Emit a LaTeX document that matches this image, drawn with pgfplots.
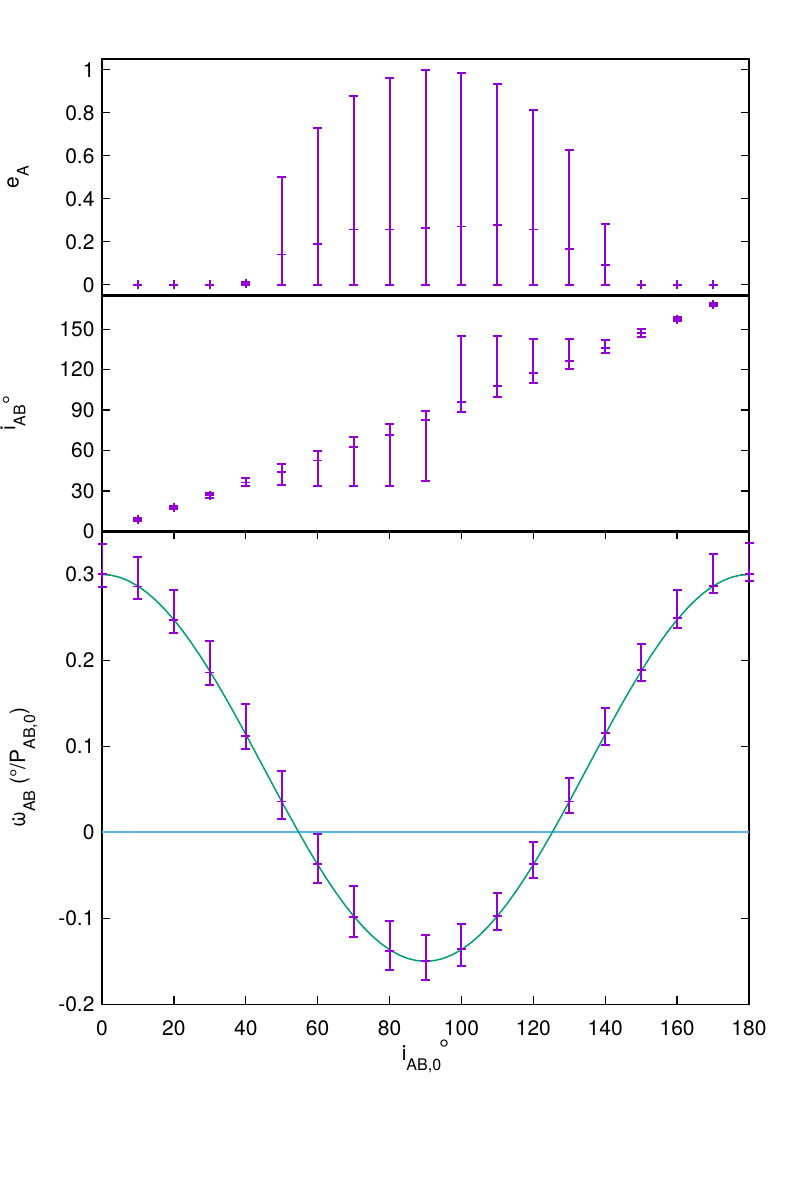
\documentclass[border=0pt]{standalone}
\usepackage{fontspec}
\setmainfont{TeX Gyre Heros}
\usepackage{pgfplots}
\pgfplotsset{compat=1.18}
\usepackage{pgfplotstable}
\definecolor{gpurple}{HTML}{9400D3}
\definecolor{ggreen}{HTML}{009E73}
\definecolor{gblue}{HTML}{56B4E9}

\newcommand{\lf}{\fontsize{21}{25}\selectfont}
\newcommand{\sbs}[1]{\raisebox{-10pt}{\fontsize{16}{18}\selectfont #1}}
\newcommand{\dg}[2]{\raisebox{#1}{\fontsize{#2}{#2}\selectfont °}}

% e_A: central values
\pgfplotstableread{
x y
10 0
20 0
30 0
40 0.008
50 0.141
60 0.191
70 0.257
80 0.257
90 0.264
100 0.271
110 0.277
120 0.257
130 0.166
140 0.092
150 0
160 0
170 0
}\ecc
% e_A: error-bar ends (lower, upper), nan separates bars
\pgfplotstableread{
x y
40 0
40 0.012
40 nan
50 0
50 0.502
50 nan
60 0
60 0.729
60 nan
70 0
70 0.877
70 nan
80 0
80 0.963
80 nan
90 0
90 1.0
90 nan
100 0
100 0.987
100 nan
110 0
110 0.933
110 nan
120 0
120 0.815
120 nan
130 0
130 0.627
130 nan
140 0
140 0.283
}\eccbar

\pgfplotstableread{
x y
10 8.9
20 17.9
30 26.8
40 36.4
50 44.3
60 52.6
70 62.7
80 71.3
90 82.9
100 96.1
110 107.9
120 117.5
130 126.7
140 136.3
150 147.0
160 157.4
170 168.2
}\incl
\pgfplotstableread{
x y
10 8.1
10 9.7
10 nan
20 16.7
20 19.1
20 nan
30 25.0
30 28.6
30 nan
40 33.4
40 39.8
40 nan
50 34.4
50 50.0
50 nan
60 33.4
60 59.5
60 nan
70 33.4
70 70.3
70 nan
80 33.4
80 79.9
80 nan
90 37.1
90 89.5
90 nan
100 88.5
100 144.8
100 nan
110 99.4
110 144.8
110 nan
120 109.9
120 142.9
120 nan
130 120.5
130 142.9
130 nan
140 132.3
140 141.9
140 nan
150 143.9
150 149.8
150 nan
160 155.9
160 158.9
160 nan
170 167.2
170 169.2
}\inclbar

\pgfplotstableread{
x y
0 0.301
10 0.286
20 0.247
30 0.186
40 0.112
50 0.036
60 -0.037
70 -0.098
80 -0.138
90 -0.150
100 -0.136
110 -0.097
120 -0.037
130 0.036
140 0.1155
150 0.189
160 0.249
170 0.2867
180 0.301
}\prec
\pgfplotstableread{
x y
0 0.286
0 0.335
0 nan
10 0.271
10 0.320
10 nan
20 0.232
20 0.282
20 nan
30 0.171
30 0.223
30 nan
40 0.097
40 0.1495
40 nan
50 0.016
50 0.071
50 nan
60 -0.059
60 -0.002
60 nan
70 -0.122
70 -0.062
70 nan
80 -0.160
80 -0.103
80 nan
90 -0.172
90 -0.119
90 nan
100 -0.155
100 -0.107
100 nan
110 -0.114
110 -0.071
110 nan
120 -0.053
120 -0.011
120 nan
130 0.022
130 0.063
130 nan
140 0.102
140 0.1445
140 nan
150 0.176
150 0.219
150 nan
160 0.2375
160 0.282
160 nan
170 0.279
170 0.3237
170 nan
180 0.2926
180 0.337
}\precbar

\pgfplotstableread{
x y
0 0.3
2.5 0.29914
5 0.29658
7.5 0.29233
10 0.28643
12.5 0.27892
15 0.26986
17.5 0.25931
20 0.24736
22.5 0.23410
25 0.21963
27.5 0.20406
30 0.18750
32.5 0.17009
35 0.15195
37.5 0.13323
40 0.11407
42.5 0.09461
45 0.07500
47.5 0.05539
50 0.03593
52.5 0.01677
55 -0.00195
57.5 -0.02009
60 -0.03750
62.5 -0.05406
65 -0.06963
67.5 -0.08410
70 -0.09736
72.5 -0.10931
75 -0.11986
77.5 -0.12892
80 -0.13643
82.5 -0.14233
85 -0.14658
87.5 -0.14914
90 -0.15
92.5 -0.14914
95 -0.14658
97.5 -0.14233
100 -0.13643
102.5 -0.12892
105 -0.11986
107.5 -0.10931
110 -0.09736
112.5 -0.08410
115 -0.06963
117.5 -0.05406
120 -0.03750
122.5 -0.02009
125 -0.00195
127.5 0.01677
130 0.03593
132.5 0.05539
135 0.07500
137.5 0.09461
140 0.11407
142.5 0.13323
145 0.15195
147.5 0.17009
150 0.18750
152.5 0.20406
155 0.21963
157.5 0.23410
160 0.24736
162.5 0.25931
165 0.26986
167.5 0.27892
170 0.28643
172.5 0.29233
175 0.29658
177.5 0.29914
180 0.3
}\curve

\pgfplotsset{
  panel/.style={
    scale only axis, width=647pt, xmin=0, xmax=180,
    axis line style={line width=1.3pt},
    every tick/.style={black, line width=1.3pt},
    major tick length=8pt,
    tick label style={font=\lf},
    label style={font=\lf},
    yticklabel style={xshift=-4pt},
    xticklabel style={yshift=-13pt},
    unbounded coords=jump,
    /pgf/number format/assume math mode=true,
  },
  bars/.style={draw=gpurple, line width=2pt, mark=-, mark size=4.5pt,
    mark options={draw=gpurple, line width=2pt, solid}},
  pts/.style={draw=gpurple, only marks, mark=+, mark size=4.5pt,
    mark options={draw=gpurple, line width=1.8pt}},
}

\begin{document}
\begin{tikzpicture}
\path[use as bounding box] (0,0) rectangle (789pt,1183pt);

\begin{axis}[panel, at={(102pt,887.5pt)}, anchor=south west, height=236.5pt,
  ymin=-0.05, ymax=1.05, ytick={0,0.2,0.4,0.6,0.8,1}, xtick=\empty,
  ylabel={e\sbs{A}},
  ylabel style={at={(axis description cs:-0.129,0.5)}, anchor=base},
  extra description/.code={\draw[line width=3pt] (rel axis cs:0,0) -- (rel axis cs:1,0);}]
\addplot[bars] table[x=x, y=y] {\eccbar};
\addplot[pts] table[x=x, y=y] {\ecc};
\end{axis}

\begin{axis}[panel, at={(102pt,651.5pt)}, anchor=south west, height=236pt,
  ymin=0, ymax=175, ytick={0,30,60,90,120,150}, xtick=\empty,
  ylabel={i\sbs{AB}\dg{-3pt}{22}},
  ylabel style={at={(axis description cs:-0.134,0.5)}, anchor=base},
  extra description/.code={\draw[line width=3pt] (rel axis cs:0,0) -- (rel axis cs:1,0);}]
\addplot[bars] table[x=x, y=y] {\inclbar};
\addplot[pts] table[x=x, y=y] {\incl};
\end{axis}

\begin{axis}[panel, at={(102pt,178.7pt)}, anchor=south west, height=472.8pt,
  ymin=-0.2, ymax=0.35, ytick={-0.2,-0.1,0,0.1,0.2,0.3},
  xtick={0,20,40,60,80,100,120,140,160,180},
  xlabel={i\sbs{AB,0}\kern-2pt\dg{3pt}{25}},
  xlabel style={at={(axis description cs:0.5,-0.118)}, anchor=base},
  ylabel={\ooalign{ω\cr\hidewidth\raisebox{0.5em}{.}\hidewidth\cr}\sbs{AB} (°/P\sbs{AB,0})},
  ylabel style={at={(axis description cs:-0.119,0.5)}, anchor=base}]
\addplot[gblue, line width=1.8pt, no marks] coordinates {(0,0) (180,0)};
\addplot[bars] table[x=x, y=y] {\precbar};
\addplot[pts] table[x=x, y=y] {\prec};
\addplot[ggreen, line width=1.5pt, no marks] table[x=x, y=y] {\curve};
\end{axis}
\end{tikzpicture}
\end{document}
